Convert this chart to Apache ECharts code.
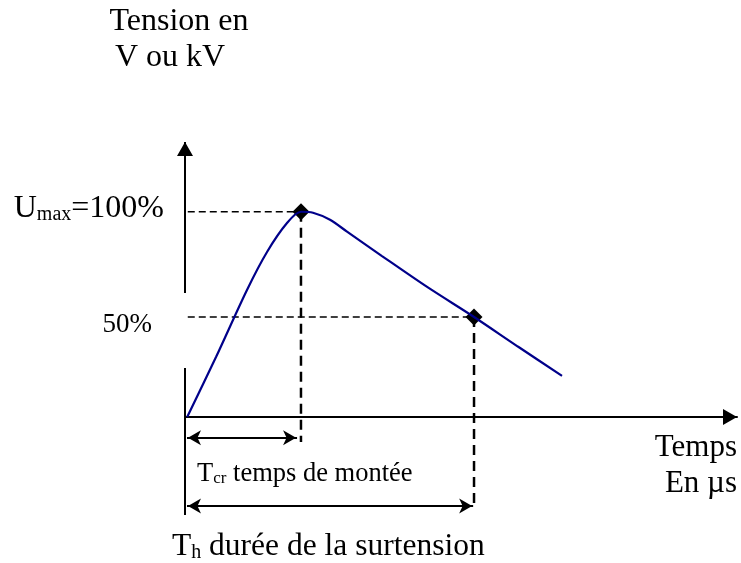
<!DOCTYPE html>
<html>
<head>
<meta charset="utf-8">
<script src="https://cdn.jsdelivr.net/npm/echarts@6/dist/echarts.min.js"></script>
<style>
    html, body { margin: 0; padding: 0; background: #fff; }
    #chart { width: 741px; height: 563px; }
</style>
</head>
<body>
<div id="chart"></div>
<script>
// Onde de surtension : tension (%) en fonction du temps (unités relatives)
const curveT = [0.4, 5.62, 11.23, 14.86, 18.48, 21.01, 23.19, 26.27, 29.35, 35.69, 44.0, 52.36, 60.3, 68.30];
const curveU = [0, 29.2, 61.9, 80.4, 94.5, 100, 99.5, 96.1, 90.3, 78.4, 63.1, 48.7, 34.3, 20.0];

// repères sur la courbe
const peakIdx = 5;   // Umax = 100%
const halfIdx = 11;  // 50%
const guideStartT = 0.5;
const dropLevels = [-12.2, -42.9];   // bas des pointillés verticaux
const arrowLevels = [-10.2, -43.4];  // flèches Tcr et Th
const arrowStartT = 0.36;
const arrowEndT = [20.3, 52.2];
const yAxisLower = [-47.8, 23.9];
const yAxisUpper = [60.4, 134];

const FONT = '"Liberation Serif", "Times New Roman", serif';
// pointe au centre de la boîte du symbole
const TRI = 'path://M8,14L16,28L0,28Z M8,0L8.01,0L8,0.01Z';
const BARB = 'path://M7,15L14,28L7,24.5L0,28Z M7,0L7.01,0L7,0.01Z';

const peak = [curveT[peakIdx], curveU[peakIdx]];
const half = [curveT[halfIdx], curveU[halfIdx]];

function dashed(points, width, dash) {
    return {
        type: 'line',
        data: points,
        symbol: 'none',
        silent: true,
        lineStyle: { color: '#000', width: width, type: dash }
    };
}

function segment(from, to, symFrom, symTo, size) {
    return [
        { coord: from, symbol: symFrom, symbolSize: size },
        { coord: to, symbol: symTo, symbolSize: size }
    ];
}

function label(x, y, text, size, align) {
    return {
        type: 'text', x: x, y: y,
        style: { text: text, font: size + 'px ' + FONT, fill: '#000', align: align, verticalAlign: 'middle' }
    };
}

// texte avec indice (T_cr, U_max ...)
function subLabel(x, y, text, size, subSize, align) {
    return {
        type: 'text', x: x, y: y,
        style: {
            text: text,
            align: align, verticalAlign: 'middle',
            rich: {
                u: { fontSize: size, fontFamily: FONT, fill: '#000' },
                s: { fontSize: subSize, fontFamily: FONT, fill: '#000', verticalAlign: 'bottom' }
            }
        }
    };
}

const myChart = echarts.init(document.getElementById('chart'), null, { renderer: 'canvas' });

const option = {
    animation: false,
    backgroundColor: '#fff',
    grid: { left: 185, right: 4, top: 142, bottom: 23 },
    xAxis: {
        type: 'value',
        min: 0,
        max: 100,
        axisLine: {
            show: true,
            onZero: true,
            symbol: ['none', TRI],
            symbolSize: [16, 28],
            lineStyle: { color: '#000', width: 2 }
        },
        axisTick: { show: false },
        axisLabel: { show: false },
        splitLine: { show: false }
    },
    yAxis: {
        type: 'value',
        min: -60,
        max: 134,
        axisLine: { show: false },
        axisTick: { show: false },
        axisLabel: { show: false },
        splitLine: { show: false }
    },
    series: [
        // pointillés horizontaux
        dashed([[guideStartT, peak[1]], peak], 1.5, [7, 4]),
        dashed([[guideStartT, half[1]], half], 1.5, [7, 4]),
        // pointillés verticaux
        dashed([peak, [peak[0], dropLevels[0]]], 2.5, [10, 6]),
        dashed([half, [half[0], dropLevels[1]]], 2.5, [10, 6]),
        {
            type: 'line',
            data: curveT.map((t, i) => [t, curveU[i]]),
            smooth: 0.3,
            symbol: 'none',
            silent: true,
            lineStyle: { color: '#00008a', width: 2.2 },
            markLine: {
                silent: true,
                animation: false,
                label: { show: false },
                emphasis: { disabled: true },
                itemStyle: { color: '#000' },
                lineStyle: { color: '#000', width: 2, type: 'solid' },
                data: [
                    segment([0, yAxisLower[0]], [0, yAxisLower[1]], 'none', 'none', 1),
                    segment([0, yAxisUpper[0]], [0, yAxisUpper[1]], 'none', TRI, [16, 28]),
                    segment([arrowStartT, arrowLevels[0]], [arrowEndT[0], arrowLevels[0]], BARB, BARB, [15, 28]),
                    segment([arrowStartT, arrowLevels[1]], [arrowEndT[1], arrowLevels[1]], BARB, BARB, [15, 28])
                ]
            }
        },
        {
            type: 'scatter',
            data: [peak, half],
            symbol: 'diamond',
            symbolSize: 17,
            silent: true,
            itemStyle: { color: '#000', opacity: 1 }
        }
    ],
    graphic: [
        label(179, 22, 'Tension en', 32, 'center'),
        label(170, 58, 'V ou kV', 32, 'center'),
        subLabel(164, 209, '{u|U}{s|max}{u|=100%}', 32, 20, 'right'),
        label(152, 325, '50%', 27, 'right'),
        label(737, 448, 'Temps', 31, 'right'),
        label(737, 484, 'En µs', 31, 'right'),
        subLabel(197, 474, '{u|T}{s|cr}{u| temps de montée}', 26.5, 17, 'left'),
        subLabel(172, 547, '{u|T}{s|h}{u| durée de la surtension}', 31.5, 20, 'left')
    ]
};

option && myChart.setOption(option, true);
</script>
</body>
</html>
